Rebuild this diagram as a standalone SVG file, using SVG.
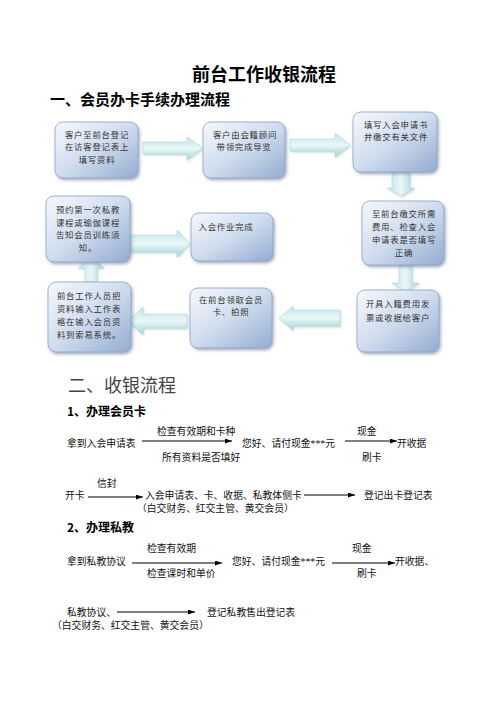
<svg xmlns="http://www.w3.org/2000/svg" width="496" height="702" viewBox="0 0 496 702">
<defs>
<linearGradient id="boxg" x1="0" y1="0" x2="1" y2="1">
<stop offset="0" stop-color="#f6f9fd"/>
<stop offset="0.5" stop-color="#cfdcee"/>
<stop offset="1" stop-color="#93acd1"/>
</linearGradient>
<linearGradient id="arrh" x1="0" y1="0" x2="0" y2="1">
<stop offset="0" stop-color="#bfe4e8"/>
<stop offset="0.5" stop-color="#e9f7f7"/>
<stop offset="1" stop-color="#a3d3da"/>
</linearGradient>
<linearGradient id="arrv" x1="0" y1="0" x2="1" y2="0">
<stop offset="0" stop-color="#bfe4e8"/>
<stop offset="0.5" stop-color="#e9f7f7"/>
<stop offset="1" stop-color="#a3d3da"/>
</linearGradient>
<filter id="sh" x="-20%" y="-20%" width="150%" height="150%">
<feDropShadow dx="1.5" dy="2" stdDeviation="1.5" flood-color="#6f7f99" flood-opacity="0.6"/>
</filter>
<filter id="sha" x="-20%" y="-20%" width="150%" height="150%">
<feDropShadow dx="1" dy="1.5" stdDeviation="1" flood-color="#8aa" flood-opacity="0.4"/>
</filter>
<marker id="ah" viewBox="0 0 10 10" refX="10" refY="5" markerWidth="7" markerHeight="5" markerUnits="userSpaceOnUse" orient="auto" preserveAspectRatio="none">
<path d="M0,0 L10,5 L0,10 Z" fill="#000"/>
</marker>
<style>
.box{fill:url(#boxg);stroke:#8aa2c6;stroke-width:0.8;filter:url(#sh)}
.ah{fill:url(#arrh);stroke:#a5d0d6;stroke-width:0.5;filter:url(#sha)}
.av{fill:url(#arrv);stroke:#a5d0d6;stroke-width:0.5;filter:url(#sha)}
.bt{font-family:"Noto Sans CJK SC",sans-serif;font-size:8.4px;fill:#333;letter-spacing:0.8px;text-anchor:middle}
.t{font-family:"Liberation Serif","Noto Sans CJK SC",serif;font-size:9.8px;fill:#111}
.ln{stroke:#000;stroke-width:1;fill:none;marker-end:url(#ah)}
.h{font-family:"Noto Sans CJK SC",sans-serif;font-weight:bold;fill:#000}
</style>
</defs>
<rect width="496" height="702" fill="#fff"/>
<text class="h" x="264" y="81" font-size="18" text-anchor="middle">前台工作收银流程</text>
<text class="h" x="50" y="105" font-size="15">一、会员办卡手续办理流程</text>

<g id="connectors">
<path class="ah" d="M143,142 H187 V137 L203,148 L187,160 V154 H143 Z"/>
<path class="ah" d="M290,139 H335 V133 L350,145 L335,157 V151 H290 Z"/>
<path class="av" d="M392,172 V188 H387 L401,196 L415,188 H410 V172 Z"/>
<path class="av" d="M399,265 V283 H392 L405.5,292 L419,283 H412 V265 Z"/>
<path class="ah" d="M340,310 H293 V306 L279,318 L293,330 V326 H340 Z"/>
<path class="ah" d="M187,314 H143 V307 L128,321 L143,335 V328 H187 Z"/>
<path class="av" d="M85,282 V268 H78 L91,257 L104,268 H97 V282 Z"/>
<path class="ah" d="M130,235 H177 V230 L190,243.5 L177,257 V252 H130 Z"/>
</g>

<g id="box1"><rect class="box" x="55" y="122" width="83" height="56" rx="8"/>
<text class="bt" x="97" y="138">客户至前台登记</text><text class="bt" x="97" y="150">在访客登记表上</text><text class="bt" x="97" y="163">填写资料</text></g>
<g id="box2"><rect class="box" x="203" y="122" width="82" height="56" rx="8"/>
<text class="bt" x="245" y="138">客户由会籍顾问</text><text class="bt" x="244" y="150">带领完成导览</text></g>
<g id="box3"><rect class="box" x="353" y="112" width="84" height="60" rx="8"/>
<text class="bt" x="396" y="128">填写入会申请书</text><text class="bt" x="396" y="140">并缴交有关文件</text></g>
<g id="box4"><rect class="box" x="362" y="201" width="82" height="64" rx="8"/>
<text class="bt" x="404" y="217">至前台缴交所需</text><text class="bt" x="404" y="230">费用、检查入会</text><text class="bt" x="404" y="243">申请表是否填写</text><text class="bt" x="404" y="256">正确</text></g>
<g id="box5"><rect class="box" x="357" y="290" width="82" height="62" rx="8"/>
<text class="bt" x="398" y="307">开具入籍费用发</text><text class="bt" x="398" y="321">票或收据给客户</text></g>
<g id="box6"><rect class="box" x="190" y="288" width="82" height="60" rx="8"/>
<text class="bt" x="231" y="303">在前台领取会员</text><text class="bt" x="231" y="315">卡、拍照</text></g>
<g id="box7"><rect class="box" x="48" y="282" width="83" height="70" rx="8"/>
<text class="bt" x="89" y="299">前台工作人员把</text><text class="bt" x="89" y="312">资料输入工作表</text><text class="bt" x="89" y="325">格在输入会员资</text><text class="bt" x="89" y="338">料到索易系统。</text></g>
<g id="box8"><rect class="box" x="46" y="196" width="84" height="66" rx="8"/>
<text class="bt" x="88" y="213">预约第一次私教</text><text class="bt" x="88" y="226">课程或瑜伽课程</text><text class="bt" x="88" y="238">告知会员训练须</text><text class="bt" x="88" y="251">知。</text></g>
<g id="box9"><rect class="box" x="191" y="213" width="82" height="48" rx="8"/>
<text class="bt" x="226" y="230">入会作业完成</text></g>

<text x="68" y="392" font-family="'Noto Sans CJK SC',sans-serif" font-size="18" fill="#444">二、收银流程</text>

<g id="flow1">
<text class="h" x="67" y="416" font-size="12">1、办理会员卡</text>
<text class="t" x="157" y="435">检查有效期和卡种</text>
<text class="t" x="357" y="435">现金</text>
<text class="t" x="67" y="447">拿到入会申请表</text>
<text class="t" x="242" y="447">您好、请付现金***元</text>
<text class="t" x="397" y="447">开收据</text>
<text class="t" x="162" y="461">所有资料是否填好</text>
<text class="t" x="362" y="461">刷卡</text>
<text class="t" x="97" y="487">信封</text>
<text class="t" x="65" y="499">开卡</text>
<text class="t" x="145" y="499">入会申请表、卡、收据、私教体侧卡</text>
<text class="t" x="364" y="499">登记出卡登记表</text>
<text class="t" x="137" y="512" font-size="10.5">（白交财务、红交主管、黄交会员）</text>
</g>
<g id="flow2">
<text class="h" x="67" y="532" font-size="12">2、办理私教</text>
<text class="t" x="147" y="552">检查有效期</text>
<text class="t" x="352" y="552">现金</text>
<text class="t" x="67" y="565">拿到私教协议</text>
<text class="t" x="232" y="565">您好、请付现金***元</text>
<text class="t" x="395" y="565">开收据、</text>
<text class="t" x="147" y="577">检查课时和单价</text>
<text class="t" x="357" y="577">刷卡</text>
<text class="t" x="67" y="616">私教协议、</text>
<text class="t" x="207" y="616">登记私教售出登记表</text>
<text class="t" x="52" y="629" font-size="9.6">（白交财务、红交主管、黄交会员）</text>
</g>
<g id="lines">
<line class="ln" x1="142" y1="441" x2="232" y2="441"/>
<line class="ln" x1="345" y1="441" x2="397" y2="441"/>
<line class="ln" x1="88" y1="497" x2="143" y2="497"/>
<line class="ln" x1="304" y1="495" x2="355" y2="495"/>
<line class="ln" x1="132" y1="563" x2="222" y2="563"/>
<line class="ln" x1="332" y1="563" x2="395" y2="563"/>
<line class="ln" x1="117" y1="612" x2="195" y2="612"/>
</g>
</svg>
